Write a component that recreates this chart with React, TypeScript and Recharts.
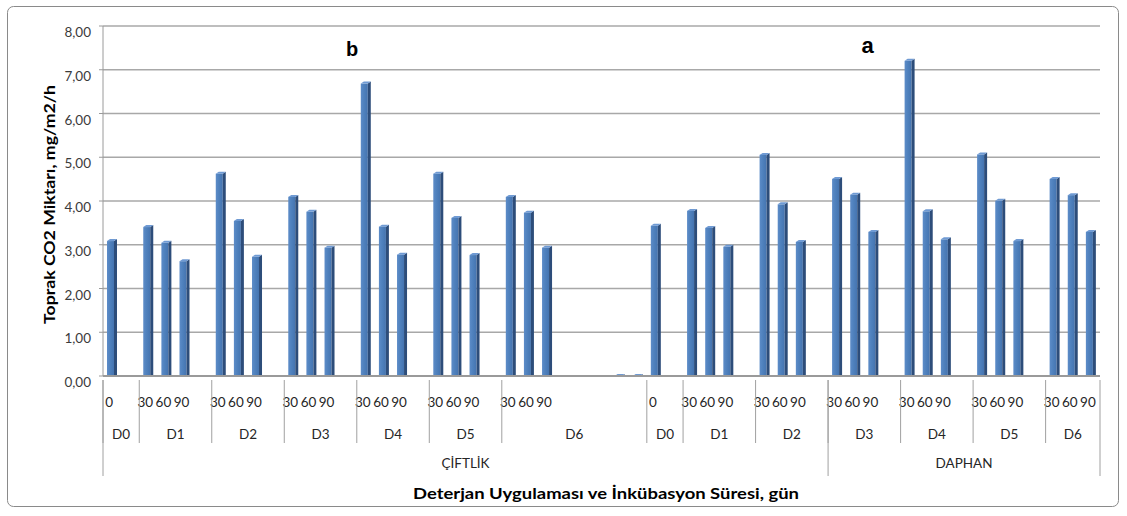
import React from "react";
import { BarChart, Bar, XAxis, YAxis, CartesianGrid } from "recharts";

// ---- data ----
const slotLabels: string[] = [
  // ÇİFTLİK
  "0", "",
  "30", "60", "90", "",
  "30", "60", "90", "",
  "30", "60", "90", "",
  "30", "60", "90", "",
  "30", "60", "90", "",
  "30", "60", "90", "", "", "", "", "",
  // DAPHAN
  "0", "",
  "30", "60", "90", "",
  "30", "60", "90", "",
  "30", "60", "90", "",
  "30", "60", "90", "",
  "30", "60", "90", "",
  "30", "60", "90",
];

const co2Values: (number | null)[] = [
  // ÇİFTLİK
  3.13, null,
  3.45, 3.09, 2.67, null,
  4.67, 3.59, 2.77, null,
  4.14, 3.8, 2.98, null,
  6.73, 3.46, 2.82, null,
  4.67, 3.66, 2.81, null,
  4.14, 3.78, 2.98, null, null, null, 0.02, 0.02,
  // DAPHAN
  3.48, null,
  3.82, 3.43, 3.0, null,
  5.1, 3.97, 3.11, null,
  4.55, 4.19, 3.34, null,
  7.25, 3.81, 3.17, null,
  5.11, 4.05, 3.13, null,
  4.55, 4.18, 3.34,
];

const groupNames = ["D0", "D1", "D2", "D3", "D4", "D5", "D6", "D0", "D1", "D2", "D3", "D4", "D5", "D6"];
const groupSizes = [2, 4, 4, 4, 4, 4, 8, 2, 4, 4, 4, 4, 4, 3];
const sourceNames = ["ÇİFTLİK", "DAPHAN"];
const sourceSizes = [40, 15];
const yTicks = [0, 1, 2, 3, 4, 5, 6, 7, 8];

// ---- layout ----
const W = 1127;
const H = 516;
const M = { top: 26, right: 27, left: 63, bottom: 30 };
const Y_W = 40;
const X_H = 110;
const PLOT_L = M.left + Y_W;
const PLOT_R = W - M.right;
const PLOT_B = H - M.bottom - X_H;
const BAND = (PLOT_R - PLOT_L) / slotLabels.length;

const FONT = "Lato, 'Liberation Sans', sans-serif";
const LINE = "#a0a0a0";
const TXT = "#262626";

const data = slotLabels.map((label, i) => ({ id: String(i), label, value: co2Values[i] }));

const groupStart: Record<number, { name: string; size: number }> = {};
{
  let acc = 0;
  groupNames.forEach((n, k) => {
    groupStart[acc] = { name: n, size: groupSizes[k] };
    acc += groupSizes[k];
  });
}
const sourceStart: Record<number, { name: string; size: number }> = {};
{
  let acc = 0;
  sourceNames.forEach((n, k) => {
    sourceStart[acc] = { name: n, size: sourceSizes[k] };
    acc += sourceSizes[k];
  });
}

const XTick = (props: any) => {
  const { x, payload } = props;
  const i = parseInt(payload.value, 10);
  const left = x - BAND / 2;
  const g = groupStart[i];
  const s = sourceStart[i];
  const last = i === slotLabels.length - 1;
  return (
    <g fontFamily={FONT} fontSize={13.5} fill={TXT}>
      {slotLabels[i] && (
        <text x={x - 3} y={PLOT_B + 26} textAnchor="middle" dominantBaseline="central" fill={TXT}>
          {slotLabels[i]}
        </text>
      )}
      {g && (
        <>
          <line x1={left} x2={left} y1={PLOT_B + 4} y2={PLOT_B + 67} stroke={LINE} />
          <text x={left + (g.size * BAND) / 2} y={PLOT_B + 58} textAnchor="middle" dominantBaseline="central" fill={TXT}>
            {g.name}
          </text>
        </>
      )}
      {s && (
        <>
          <line x1={left} x2={left} y1={PLOT_B + 4} y2={PLOT_B + 100} stroke={LINE} />
          <text x={left + (s.size * BAND) / 2} y={PLOT_B + 87} textAnchor="middle" dominantBaseline="central" fill={TXT}>
            {s.name}
          </text>
        </>
      )}
      {last && <line x1={x + BAND / 2} x2={x + BAND / 2} y1={PLOT_B + 4} y2={PLOT_B + 100} stroke={LINE} />}
    </g>
  );
};

const YTick = (props: any) => {
  const { x, y, payload } = props;
  return (
    <text
      x={x - 6}
      y={y + 6}
      textAnchor="end"
      dominantBaseline="central"
      fontFamily={FONT}
      fontSize={13.5}
      fill="#3b3b3b"
    >
      {Number(payload.value).toFixed(2).replace(".", ",")}
    </text>
  );
};

const Bar3D = (p: any) => {
  const { x, y, width, height, value } = p;
  if (value == null || !isFinite(y) || !isFinite(height)) return null;
  const bottom = y + Math.max(height, 0);
  const side = 3;
  const cap = 2;
  const fw = width - side;
  const top = Math.min(y + cap, bottom);
  return (
    <g>
      <rect x={x} y={top} width={fw} height={Math.max(bottom - top, 0)} fill="url(#barFront)" />
      <polygon
        points={`${x + fw},${top} ${x + width},${top - cap} ${x + width},${bottom - 1} ${x + fw},${bottom}`}
        fill="#2d4d7a"
      />
      <polygon
        points={`${x},${top} ${x + side},${top - cap} ${x + width},${top - cap} ${x + fw},${top}`}
        fill="#6f9ad3"
      />
    </g>
  );
};

export default function App() {
  return (
    <div style={{ position: "absolute", left: 0, top: 0, width: W, height: H, background: "#fff" }}>
      <BarChart
        width={W}
        height={H}
        data={data}
        margin={M}
        barCategoryGap={0}
        barGap={0}
      >
        <defs>
          <linearGradient id="barFront" x1="0" y1="0" x2="1" y2="0">
            <stop offset="0%" stopColor="#5d8cc8" />
            <stop offset="45%" stopColor="#4f81bd" />
            <stop offset="100%" stopColor="#4574b0" />
          </linearGradient>
        </defs>
        <CartesianGrid horizontal vertical={false} stroke="#a8a8a8" strokeWidth={1.5} />
        <XAxis
          dataKey="id"
          type="category"
          interval={0}
          height={X_H}
          tick={<XTick />}
          tickLine={false}
          axisLine={{ stroke: "#9a9a9a", strokeWidth: 2 }}
        />
        <YAxis
          domain={[0, 8]}
          ticks={yTicks}
          width={Y_W}
          tick={<YTick />}
          tickSize={4}
          tickLine={{ stroke: "#9a9a9a" }}
          axisLine={{ stroke: "#9a9a9a" }}
          interval={0}
        />
        <Bar dataKey="value" barSize={10} shape={<Bar3D />} isAnimationActive={false} />
      </BarChart>
      <svg
        width={W}
        height={H}
        style={{ position: "absolute", left: 0, top: 0, pointerEvents: "none" }}
      >
        <rect x={7.5} y={6.5} width={1111} height={500} rx={6} fill="none" stroke="#8a8a8a" />
        <text
          x={0}
          y={0}
          transform="translate(49,204.5) rotate(-90)"
          textAnchor="middle"
          dominantBaseline="central"
          fontFamily={FONT}
          fontWeight="bold"
          fontSize={15}
          fill="#000"
          textLength={239}
          lengthAdjust="spacingAndGlyphs"
        >
          Toprak CO2 Miktarı, mg/m2/h
        </text>
        <text
          x={606}
          y={493}
          textAnchor="middle"
          dominantBaseline="central"
          fontFamily={FONT}
          fontWeight="bold"
          fontSize={15}
          fill="#000"
          textLength={386}
          lengthAdjust="spacingAndGlyphs"
        >
          Deterjan Uygulaması ve İnkübasyon Süresi, gün
        </text>
        <text x={352} y={48.5} textAnchor="middle" dominantBaseline="central" fontFamily="'Liberation Sans', Arial, sans-serif" fontWeight="bold" fontSize={20} fill="#000">
          b
        </text>
        <text x={867.5} y={45} textAnchor="middle" dominantBaseline="central" fontFamily="'Liberation Sans', Arial, sans-serif" fontWeight="bold" fontSize={22} fill="#000">
          a
        </text>
      </svg>
    </div>
  );
}
